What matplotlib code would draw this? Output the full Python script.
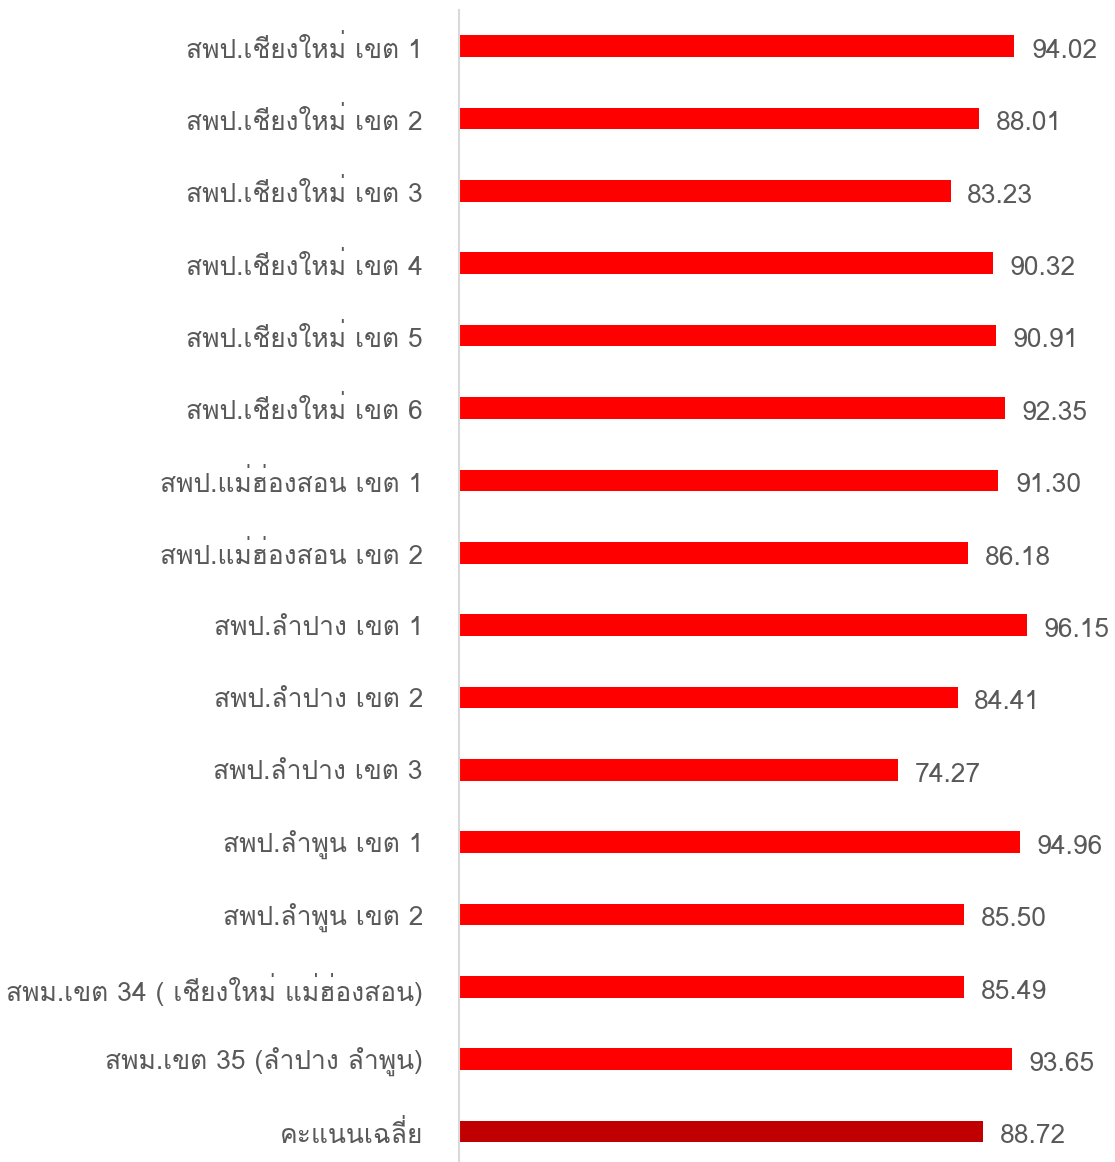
import matplotlib
matplotlib.use("Agg")
import matplotlib.pyplot as plt
from matplotlib import font_manager as fm
from fontTools.ttLib import TTFont

# หาฟอนต์ที่มีอักษรไทย
thai_font = None
for f in fm.fontManager.ttflist:
    try:
        tt = TTFont(f.fname, fontNumber=0, lazy=True)
        cmap = tt.getBestCmap()
        if cmap and 0x0E2A in cmap and 0x0E40 in cmap:
            thai_font = f.name
            break
    except Exception:
        pass

fams = ([thai_font] if thai_font else []) + ['DejaVu Sans']
plt.rcParams['font.family'] = fams

labels = [
    'สพป.เชียงใหม่ เขต 1', 'สพป.เชียงใหม่ เขต 2', 'สพป.เชียงใหม่ เขต 3',
    'สพป.เชียงใหม่ เขต 4', 'สพป.เชียงใหม่ เขต 5', 'สพป.เชียงใหม่ เขต 6',
    'สพป.แม่ฮ่องสอน เขต 1', 'สพป.แม่ฮ่องสอน เขต 2',
    'สพป.ลำปาง เขต 1', 'สพป.ลำปาง เขต 2', 'สพป.ลำปาง เขต 3',
    'สพป.ลำพูน เขต 1', 'สพป.ลำพูน เขต 2',
    'สพม.เขต 34 ( เชียงใหม่ แม่ฮ่องสอน)', 'สพม.เขต 35 (ลำปาง ลำพูน)',
    'คะแนนเฉลี่ย',
]
scores = [94.02, 88.01, 83.23, 90.32, 90.91, 92.35, 91.30, 86.18,
          96.15, 84.41, 74.27, 94.96, 85.50, 85.49, 93.65, 88.72]
colors = ['#FF0000'] * 15 + ['#C00000']

fig = plt.figure(figsize=(11.15, 11.62), dpi=100)
ax = fig.add_axes([0.4117, -0.005, 0.5883, 0.9964])

y = list(range(len(labels)))
ax.barh(y, scores, height=0.3, color=colors)
ax.set_ylim(len(labels) - 0.5, -0.5)
ax.set_xlim(0, 111.05)

for yi, v in zip(y, scores):
    ax.annotate(f'{v:.2f}', (v, yi), xytext=(12, -3.5), textcoords='offset points',
                va='center', ha='left', fontsize=19, color='#595959')

ax.set_yticks(y)
ax.set_yticklabels(labels, fontsize=19, color='#595959')
ax.tick_params(axis='y', length=0, pad=26)
ax.set_xticks([])
for s in ['top', 'right', 'bottom']:
    ax.spines[s].set_visible(False)
ax.spines['left'].set_color('#D9D9D9')
ax.spines['left'].set_linewidth(1.5)

fig.savefig('out.png', dpi=100)
